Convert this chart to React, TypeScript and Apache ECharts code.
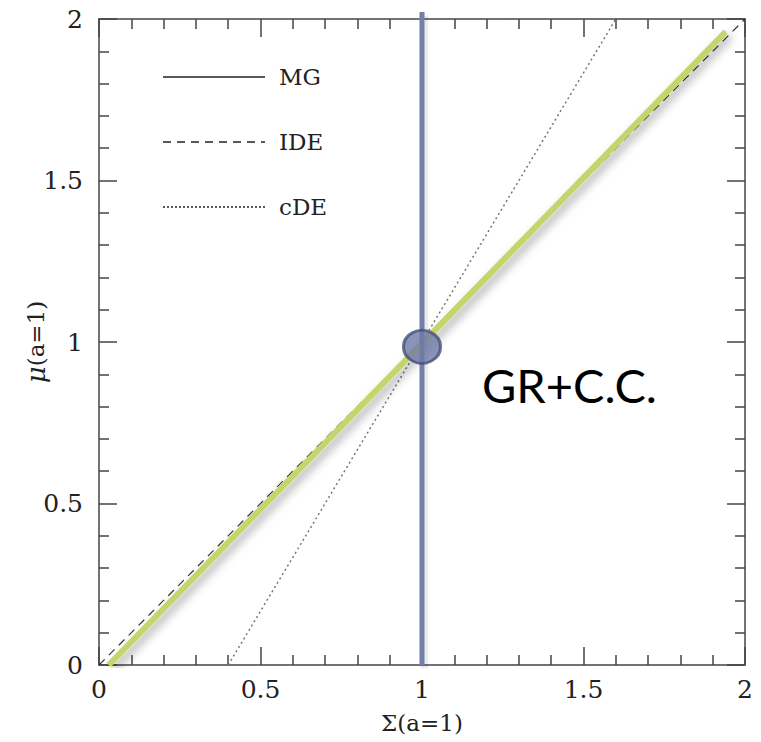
import React, { useEffect, useRef } from "react";
import * as echarts from "echarts";

const xTicks = [0, 0.5, 1, 1.5, 2];
const ideLine = [[0, 0], [2, 2]];
const mgLine = [[0.03, 0], [1.94, 1.96]];
const cdeLine = [[0.4, 0], [1.6, 2]];
const grVertical = [[1, 0], [1, 2.022]];
const grVerticalShadow = [[1.007, -0.01], [1.007, 2.01]];
const grPoint = [[1, 0.985]];
const legendNames = ["MG", "IDE", "cDE"];
const annotation = "GR+C.C.";

const SERIF = "DejaVu Serif";

export default function App() {
  const ref = useRef<HTMLDivElement>(null);
  useEffect(() => {
    const chart = echarts.init(ref.current!, null, { renderer: "svg" });
    const axisCommon = {
      type: "value" as const,
      min: xTicks[0],
      max: xTicks[xTicks.length - 1],
      interval: 0.5,
      axisLine: { show: true, onZero: false, lineStyle: { color: "#444", width: 1.5 } },
      axisTick: { show: true, inside: true, length: 18, lineStyle: { color: "#444", width: 1.5 } },
      minorTick: { show: true, splitNumber: 5, length: 10, lineStyle: { color: "#444", width: 1.5 } },
      splitLine: { show: false },
      minorSplitLine: { show: false },
    };
    const labelStyle = {
      fontFamily: SERIF,
      fontSize: 25,
      color: "#222",
      formatter: (v: number) => String(v),
    };
    const legendY = [77, 142, 207];
    const legendDash: any[] = [null, [8, 6], [2, 2]];
    const graphics: any[] = [];
    legendNames.forEach((n, i) => {
      graphics.push({
        type: "line",
        shape: { x1: 163, y1: legendY[i], x2: 265, y2: legendY[i] },
        style: { stroke: "#222", lineWidth: 1.3, lineDash: legendDash[i] },
      });
      graphics.push({
        type: "text",
        x: 279,
        y: legendY[i],
        style: { text: n, font: `23px "${SERIF}"`, fill: "#222", verticalAlign: "middle" },
      });
    });
    graphics.push({
      type: "text",
      x: 482,
      y: 385,
      style: { text: annotation, font: '47px "Lato"', fill: "#000", verticalAlign: "middle" },
    });
    chart.setOption({
      animation: false,
      grid: { left: 99, right: 16, top: 19, bottom: 77 },
      xAxis: [
        {
          ...axisCommon,
          position: "bottom",
          name: "Σ(a=1)",
          nameLocation: "middle",
          nameGap: 46,
          nameMoveOverlap: false,
          nameTextStyle: { fontFamily: SERIF, fontSize: 23, color: "#222" },
          axisLabel: { ...labelStyle, margin: 12 },
        },
        { ...axisCommon, position: "top", axisLabel: { show: false } },
      ],
      yAxis: [
        {
          ...axisCommon,
          position: "left",
          name: "{m|μ}(a=1)",
          nameLocation: "middle",
          nameGap: 50,
          nameMoveOverlap: false,
          nameTextStyle: {
            fontFamily: SERIF,
            fontSize: 23,
            color: "#222",
            rich: { m: { fontFamily: SERIF, fontSize: 26, fontStyle: "italic", color: "#222" } },
          },
          axisLabel: { ...labelStyle, margin: 16 },
        },
        { ...axisCommon, position: "right", axisLabel: { show: false } },
      ],
      graphic: graphics,
      series: [
        {
          type: "line",
          data: ideLine,
          symbol: "none",
          lineStyle: { color: "#333", width: 1.2, type: [8, 6] },
          z: 2,
        },
        {
          type: "line",
          data: cdeLine,
          symbol: "none",
          lineStyle: { color: "#777", width: 1.5, type: [2, 3] },
          z: 2,
        },
        {
          type: "line",
          data: mgLine,
          symbol: "none",
          lineStyle: { color: "#222", width: 1.2 },
          z: 3,
        },
        {
          type: "line",
          data: mgLine,
          symbol: "none",
          lineStyle: {
            color: "#c6d46c",
            width: 6,
            shadowBlur: 10,
            shadowColor: "rgba(0,0,0,0.35)",
            shadowOffsetX: 4,
            shadowOffsetY: 4,
          },
          z: 4,
        },
        {
          type: "line",
          data: grVerticalShadow,
          symbol: "none",
          clip: false,
          lineStyle: { color: "rgba(0,0,0,0.08)", width: 8 },
          z: 4,
        },
        {
          type: "line",
          data: grVertical,
          symbol: "none",
          clip: false,
          lineStyle: { color: "#7480a8", width: 5 },
          z: 5,
        },
        {
          type: "scatter",
          data: grPoint,
          symbol: "circle",
          symbolSize: [37, 33],
          itemStyle: { color: "#6e79a6", borderColor: "#46507a", borderWidth: 3 },
          z: 6,
        },
      ],
    });
    return () => chart.dispose();
  }, []);
  return <div ref={ref} style={{ width: 761, height: 742, position: "absolute", left: 0, top: 0 }} />;
}
